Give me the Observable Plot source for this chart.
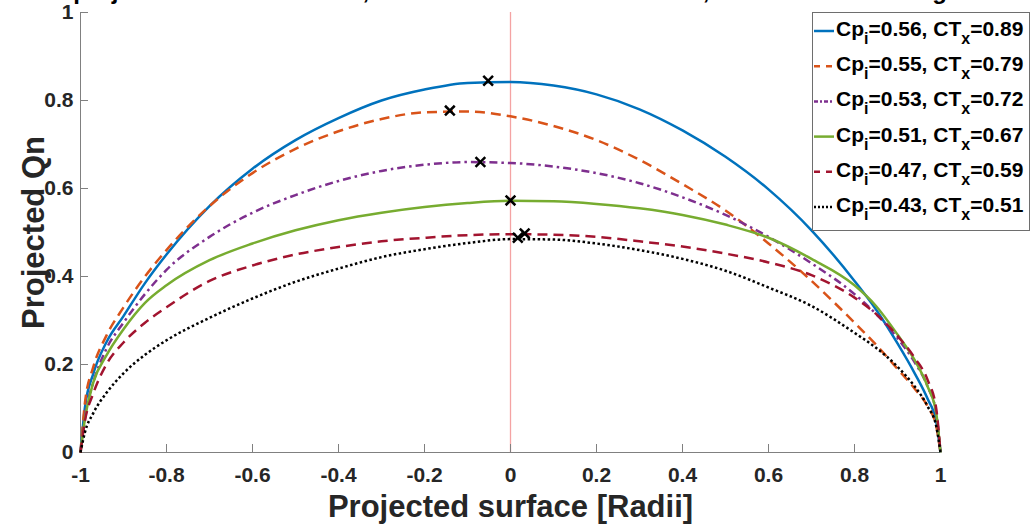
<!DOCTYPE html>
<html>
<head>
<meta charset="utf-8">
<script src="https://cdn.jsdelivr.net/npm/d3@7"></script>
<script src="https://cdn.jsdelivr.net/npm/@observablehq/plot@0.6"></script>
<style>
  html, body { margin: 0; padding: 0; background: #fff; overflow: hidden; }
  #chart { position: relative; width: 1032px; height: 524px; }
</style>
</head>
<body>
<div id="chart"></div>
<script>
// Sample positions along the projected surface (in radii)
const surface = [-1, -0.99, -0.97, -0.94, -0.9, -0.85, -0.8, -0.7, -0.6, -0.5, -0.4, -0.3, -0.2, -0.1,
                 0, 0.1, 0.2, 0.3, 0.4, 0.5, 0.6, 0.7, 0.8, 0.85, 0.9, 0.94, 0.97, 0.99, 1];

// Projected Qn for each operating point
const qnCp056 = [0, 0.10, 0.18, 0.25, 0.31, 0.385, 0.45, 0.56, 0.645, 0.71, 0.76, 0.80, 0.825, 0.84,
                 0.842, 0.834, 0.814, 0.78, 0.732, 0.672, 0.598, 0.505, 0.39, 0.325, 0.248, 0.18, 0.122, 0.07, 0];
const qnCp055 = [0, 0.11, 0.195, 0.265, 0.33, 0.40, 0.46, 0.56, 0.635, 0.69, 0.73, 0.758, 0.773, 0.775,
                 0.764, 0.742, 0.71, 0.665, 0.61, 0.55, 0.475, 0.39, 0.295, 0.245, 0.19, 0.145, 0.105, 0.06, 0];
const qnCp053 = [0, 0.08, 0.16, 0.235, 0.295, 0.36, 0.415, 0.49, 0.545, 0.585, 0.617, 0.64, 0.654, 0.66,
                 0.658, 0.65, 0.635, 0.612, 0.58, 0.54, 0.49, 0.43, 0.36, 0.315, 0.26, 0.205, 0.15, 0.09, 0];
const qnCp051 = [0, 0.075, 0.16, 0.22, 0.28, 0.34, 0.38, 0.437, 0.475, 0.505, 0.528, 0.545, 0.558, 0.567,
                 0.572, 0.571, 0.565, 0.555, 0.54, 0.518, 0.488, 0.44, 0.38, 0.333, 0.268, 0.21, 0.15, 0.09, 0];
const qnCp047 = [0, 0.07, 0.135, 0.20, 0.25, 0.295, 0.33, 0.39, 0.425, 0.45, 0.467, 0.48, 0.488, 0.494,
                 0.496, 0.495, 0.49, 0.48, 0.468, 0.452, 0.432, 0.403, 0.352, 0.315, 0.265, 0.215, 0.165, 0.10, 0];
const qnCp043 = [0, 0.045, 0.09, 0.135, 0.18, 0.222, 0.255, 0.306, 0.35, 0.388, 0.418, 0.444, 0.462, 0.476,
                 0.485, 0.484, 0.475, 0.46, 0.44, 0.413, 0.375, 0.333, 0.272, 0.238, 0.195, 0.15, 0.105, 0.06, 0];

// Operating points (legend values) and the location of each maximum
const cpValues = ["0.56", "0.55", "0.53", "0.51", "0.47", "0.43"];
const ctValues = ["0.89", "0.79", "0.72", "0.67", "0.59", "0.51"];
const peakX = [-0.052, -0.141, -0.070, 0.000, 0.033, 0.017];
const peakY = [0.845, 0.777, 0.660, 0.573, 0.498, 0.488];

// Axis ticks
const xTicks = [-1, -0.8, -0.6, -0.4, -0.2, 0, 0.2, 0.4, 0.6, 0.8, 1];
const xTickLabels = ["-1", "-0.8", "-0.6", "-0.4", "-0.2", "0", "0.2", "0.4", "0.6", "0.8", "1"];
const yTicks = [0, 0.2, 0.4, 0.6, 0.8, 1];
const yTickLabels = ["0", "0.2", "0.4", "0.6", "0.8", "1"];

// Line styles, one per series (plot dash, legend dash)
const lineStyles = [
  { stroke: "#0072BD", dash: null,        keyDash: null },
  { stroke: "#D95319", dash: "10 6",      keyDash: "6 6" },
  { stroke: "#7E2F8E", dash: "8 4 2.5 4", keyDash: "4 2 2 2" },
  { stroke: "#77AC30", dash: null,        keyDash: null },
  { stroke: "#A2142F", dash: "10 6",      keyDash: "6 6" },
  { stroke: "#000000", dash: "2.5 2.5",   keyDash: "2 2" }
];

const qnSeries = [qnCp056, qnCp055, qnCp053, qnCp051, qnCp047, qnCp043];
const rows = qnSeries.map((vals, i) => surface.map((x, j) => ({ x, y: vals[j], k: i })));
const peaks = peakX.map((x, i) => ({ x, y: peakY[i] }));

const FONT = "'Liberation Sans', Arial, Helvetica, sans-serif";
const TXT = "#262626";
const AXIS = "#808080";

const lineMarks = rows.map((data, i) => Plot.line(data, {
  x: "x", y: "y", curve: "monotone-x",
  stroke: lineStyles[i].stroke, strokeWidth: 2.5,
  strokeDasharray: lineStyles[i].dash, strokeLinecap: "butt", strokeLinejoin: "round"
}));

const chart = Plot.plot({
  width: 1032,
  height: 524,
  marginLeft: 80,
  marginRight: 92,
  marginTop: 12,
  marginBottom: 72,
  style: { fontFamily: FONT, background: "#fff", overflow: "visible" },
  x: { domain: [-1, 1] },
  y: { domain: [0, 1] },
  marks: [
    // reference line at the centre
    Plot.ruleX([0], { stroke: "#f4a3a3", strokeWidth: 1.3 }),
    // axis lines and inward ticks
    Plot.ruleY([0], { stroke: AXIS, strokeWidth: 1 }),
    Plot.ruleX([-1], { stroke: AXIS, strokeWidth: 1 }),
    Plot.tickX(xTicks, { x: d => d, insetTop: 432, stroke: AXIS }),
    Plot.tickY(yTicks, { y: d => d, insetRight: 852, stroke: AXIS }),
    Plot.axisX(xTicks, {
      tickSize: 0, tickPadding: 15, label: null,
      tickFormat: (d, i) => xTickLabels[i],
      fontSize: 21, fontWeight: "bold", fill: TXT
    }),
    Plot.axisY(yTicks, {
      tickSize: 0, tickPadding: 7, label: null,
      tickFormat: (d, i) => yTickLabels[i],
      fontSize: 21, fontWeight: "bold", fill: TXT
    }),
    // axis titles
    Plot.text(["Projected surface [Radii]"], {
      frameAnchor: "bottom", dy: 55, lineAnchor: "middle", textAnchor: "middle",
      fontSize: 31, fontWeight: "bold", fill: TXT
    }),
    Plot.text(["Projected Qn"], {
      frameAnchor: "left", dx: -46, rotate: -90, lineAnchor: "middle", textAnchor: "middle",
      fontSize: 31, fontWeight: "bold", fill: TXT
    }),
    ...lineMarks,
    // maxima
    Plot.dot(peaks, { x: "x", y: "y", symbol: "times", r: 4.5, stroke: "#000", strokeWidth: 2.5 })
  ]
});

document.getElementById("chart").appendChild(chart);

// Title (runs off the top of the figure) and legend box
const svg = d3.select(chart);
svg.append("text")
  .attr("x", 510).attr("y", -1)
  .attr("text-anchor", "middle")
  .attr("font-family", FONT).attr("font-size", 24).attr("font-weight", "bold")
  .attr("fill", "#000")
  .text("projected load vs surface, maxima marked with a cross, at each thrust rating");

const lg = svg.append("g").attr("font-family", FONT).attr("text-anchor", "start");
lg.append("rect")
  .attr("x", 812.5).attr("y", 12.5).attr("width", 217).attr("height", 218)
  .attr("fill", "#fff").attr("stroke", "#6e6e6e").attr("stroke-width", 1);

cpValues.forEach((cp, i) => {
  const y = 31 + i * 35.2;
  lg.append("line")
    .attr("x1", 814).attr("x2", 834).attr("y1", y).attr("y2", y)
    .attr("stroke", lineStyles[i].stroke).attr("stroke-width", 2.5)
    .attr("stroke-dasharray", lineStyles[i].keyDash);
  const t = lg.append("text")
    .attr("x", 836).attr("y", y + 5)
    .attr("font-size", 21).attr("font-weight", "bold").attr("fill", "#000");
  t.append("tspan").text("Cp");
  t.append("tspan").attr("dy", 8).attr("font-size", 16).text("i");
  t.append("tspan").attr("dy", -8).text(`=${cp}, CT`);
  t.append("tspan").attr("dy", 8).attr("font-size", 16).text("x");
  t.append("tspan").attr("dy", -8).text(`=${ctValues[i]}`);
});
</script>
</body>
</html>
